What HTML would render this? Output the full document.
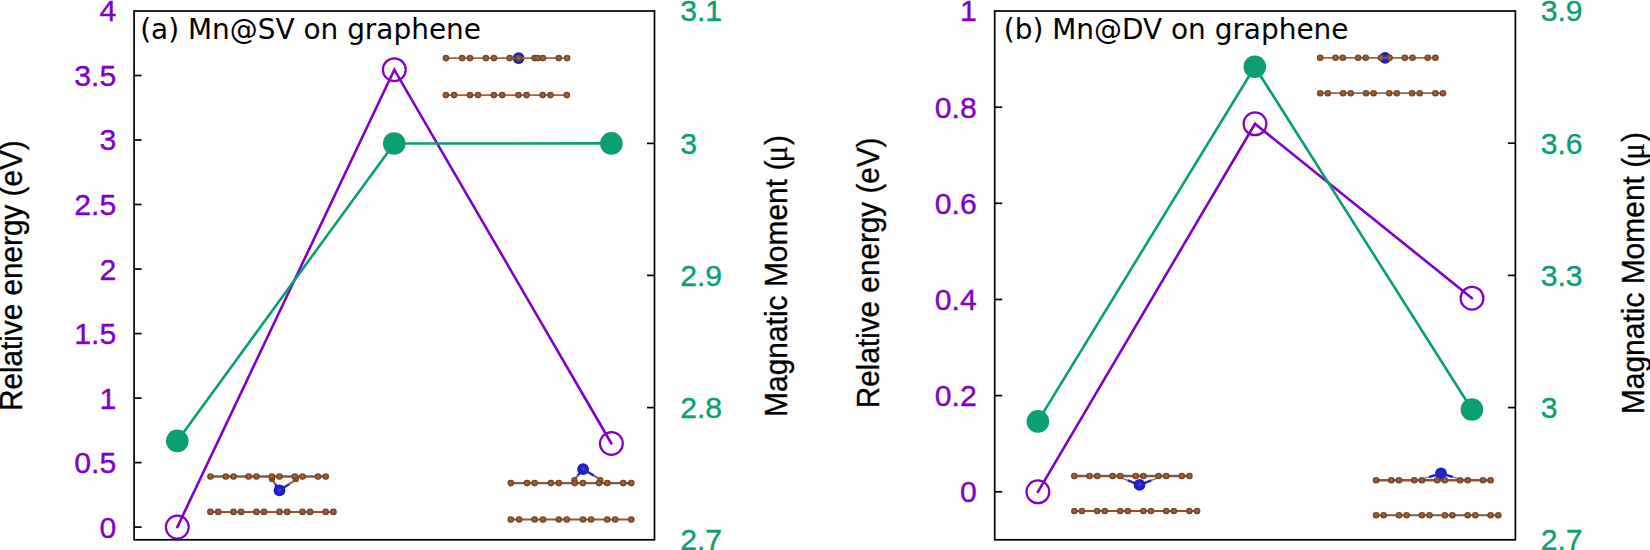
<!DOCTYPE html>
<html lang="en"><head><meta charset="utf-8"><title>Mn on graphene: relative energy and magnetic moment</title>
<style>
html,body{margin:0;padding:0;background:#fff;}
body{width:1650px;height:550px;overflow:hidden;position:relative;}
svg{position:absolute;left:0;top:0;display:block;}
.tk{font-family:"Liberation Sans",Arial,Helvetica,sans-serif;font-size:30.20px;}
.ti{font-family:"DejaVu Sans","Liberation Sans",sans-serif;font-size:27.95px;fill:#000;}
.ax{font-family:"Liberation Sans",Arial,Helvetica,sans-serif;fill:#000;stroke:#000;stroke-width:0.3px;}
.mu{font-family:"Liberation Serif","DejaVu Serif",serif;font-size:31px;fill:#000;stroke:#000;stroke-width:0.25px;}
</style></head><body>
<svg width="1650" height="550" viewBox="0 0 1650 550">
<defs>
<radialGradient id="gc" cx="50%" cy="48%" r="55%"><stop offset="0" stop-color="#c08052"/><stop offset="0.3" stop-color="#935932"/><stop offset="0.75" stop-color="#7a4524"/><stop offset="1" stop-color="#5e3418"/></radialGradient>
<radialGradient id="gb" cx="52%" cy="48%" r="55%"><stop offset="0" stop-color="#5a5af0"/><stop offset="0.25" stop-color="#2424dc"/><stop offset="1" stop-color="#1a18a8"/></radialGradient>
</defs>
<rect x="0" y="0" width="1650" height="550" fill="#ffffff"/>
<g>
<g class="tk" fill="#8000c6" stroke="#8000c6" stroke-width="0.35" text-anchor="end">
<text x="116.2" y="537.55">0</text>
<text x="116.2" y="473.05">0.5</text>
<text x="116.2" y="408.55">1</text>
<text x="116.2" y="344.05">1.5</text>
<text x="116.2" y="279.50">2</text>
<text x="116.2" y="214.95">2.5</text>
<text x="116.2" y="150.45">3</text>
<text x="116.2" y="85.95">3.5</text>
<text x="116.2" y="21.45">4</text>
</g>
<g class="tk" fill="#0a9e73" stroke="#0a9e73" stroke-width="0.35" text-anchor="start">
<text x="680.2" y="550.25">2.7</text>
<text x="680.2" y="418.05">2.8</text>
<text x="680.2" y="285.85">2.9</text>
<text x="680.2" y="153.85">3</text>
<text x="680.2" y="21.45">3.1</text>
</g>
<g transform="translate(21.80 411.04) rotate(-90) scale(1 1.060)"><text class="ax" style="font-size:29.70px" x="0" y="0">Relative energy (eV)</text></g>
<g transform="translate(786.80 416.96) rotate(-90) scale(1 1.060)"><text class="ax" style="font-size:29.95px" x="0" y="0">Magnatic Moment (<tspan class="mu" dx="-1.86">μ</tspan><tspan dx="0.97">)</tspan></text></g>
<g stroke="#000" stroke-width="1.7" fill="none">
<line x1="134.1" y1="527.10" x2="141.6" y2="527.10"/>
<line x1="134.1" y1="462.60" x2="141.6" y2="462.60"/>
<line x1="134.1" y1="398.10" x2="141.6" y2="398.10"/>
<line x1="134.1" y1="333.60" x2="141.6" y2="333.60"/>
<line x1="134.1" y1="269.05" x2="141.6" y2="269.05"/>
<line x1="134.1" y1="204.50" x2="141.6" y2="204.50"/>
<line x1="134.1" y1="140.00" x2="141.6" y2="140.00"/>
<line x1="134.1" y1="75.50" x2="141.6" y2="75.50"/>
<line x1="647.0" y1="407.60" x2="654.5" y2="407.60"/>
<line x1="647.0" y1="275.40" x2="654.5" y2="275.40"/>
<line x1="647.0" y1="143.40" x2="654.5" y2="143.40"/>
<rect x="134.1" y="11.0" width="520.4" height="528.8"/>
</g>
<text class="ti" x="140.2" y="38.5">(a) Mn@SV on graphene</text>
<polyline points="177.3,527.1 394.3,69.7 611.4,443.5" fill="none" stroke="#8000c6" stroke-width="2.6" stroke-linejoin="miter" stroke-linecap="round"/>
<circle cx="177.3" cy="527.1" r="11.4" fill="none" stroke="#8000c6" stroke-width="2.2"/>
<circle cx="394.3" cy="69.7" r="11.4" fill="none" stroke="#8000c6" stroke-width="2.2"/>
<circle cx="611.4" cy="443.5" r="11.4" fill="none" stroke="#8000c6" stroke-width="2.2"/>
<polyline points="177.3,440.9 394.2,143.5 611.4,143.4" fill="none" stroke="#0a9e73" stroke-width="2.6" stroke-linejoin="miter" stroke-linecap="round"/>
<circle cx="177.3" cy="440.9" r="11.3" fill="#0a9e73"/>
<circle cx="394.2" cy="143.5" r="11.3" fill="#0a9e73"/>
<circle cx="611.4" cy="143.4" r="11.3" fill="#0a9e73"/>
</g>
<g>
<g class="tk" fill="#8000c6" stroke="#8000c6" stroke-width="0.35" text-anchor="end">
<text x="976.8" y="502.25">0</text>
<text x="976.8" y="406.05">0.2</text>
<text x="976.8" y="309.95">0.4</text>
<text x="976.8" y="213.75">0.6</text>
<text x="976.8" y="117.65">0.8</text>
<text x="976.8" y="21.45">1</text>
</g>
<g class="tk" fill="#0a9e73" stroke="#0a9e73" stroke-width="0.35" text-anchor="start">
<text x="1540.7" y="550.25">2.7</text>
<text x="1540.7" y="418.05">3</text>
<text x="1540.7" y="285.85">3.3</text>
<text x="1540.7" y="153.65">3.6</text>
<text x="1540.7" y="21.45">3.9</text>
</g>
<g transform="translate(879.10 408.14) rotate(-90) scale(1 1.060)"><text class="ax" style="font-size:29.70px" x="0" y="0">Relative energy (eV)</text></g>
<g transform="translate(1643.70 414.16) rotate(-90) scale(1 1.060)"><text class="ax" style="font-size:29.95px" x="0" y="0">Magnatic Moment (<tspan class="mu" dx="-1.86">μ</tspan><tspan dx="0.97">)</tspan></text></g>
<g stroke="#000" stroke-width="1.7" fill="none">
<line x1="994.7" y1="491.80" x2="1002.2" y2="491.80"/>
<line x1="994.7" y1="395.60" x2="1002.2" y2="395.60"/>
<line x1="994.7" y1="299.50" x2="1002.2" y2="299.50"/>
<line x1="994.7" y1="203.30" x2="1002.2" y2="203.30"/>
<line x1="994.7" y1="107.20" x2="1002.2" y2="107.20"/>
<line x1="1507.9" y1="407.60" x2="1515.4" y2="407.60"/>
<line x1="1507.9" y1="275.40" x2="1515.4" y2="275.40"/>
<line x1="1507.9" y1="143.20" x2="1515.4" y2="143.20"/>
<rect x="994.7" y="11.0" width="520.7" height="528.8"/>
</g>
<text class="ti" x="1003.8" y="38.5">(b) Mn@DV on graphene</text>
<polyline points="1037.9,491.8 1255.0,123.8 1472.0,298.2" fill="none" stroke="#8000c6" stroke-width="2.6" stroke-linejoin="miter" stroke-linecap="round"/>
<circle cx="1037.9" cy="491.8" r="11.4" fill="none" stroke="#8000c6" stroke-width="2.2"/>
<circle cx="1255.0" cy="123.8" r="11.4" fill="none" stroke="#8000c6" stroke-width="2.2"/>
<circle cx="1472.0" cy="298.2" r="11.4" fill="none" stroke="#8000c6" stroke-width="2.2"/>
<polyline points="1037.9,421.4 1254.8,66.8 1471.9,409.5" fill="none" stroke="#0a9e73" stroke-width="2.6" stroke-linejoin="miter" stroke-linecap="round"/>
<circle cx="1037.9" cy="421.4" r="11.3" fill="#0a9e73"/>
<circle cx="1254.8" cy="66.8" r="11.3" fill="#0a9e73"/>
<circle cx="1471.9" cy="409.5" r="11.3" fill="#0a9e73"/>
</g>
<g>
<g><circle cx="518.6" cy="58.1" r="5.9" fill="url(#gb)"/><line x1="445.9" y1="58.1" x2="567.1" y2="58.1" stroke="#9a6846" stroke-width="1.7"/><line x1="445.9" y1="95.1" x2="566.8" y2="95.1" stroke="#9a6846" stroke-width="1.7"/><circle cx="445.9" cy="58.1" r="3.3" fill="url(#gc)"/><circle cx="462.1" cy="58.1" r="3.3" fill="url(#gc)"/><circle cx="470.0" cy="58.1" r="3.3" fill="url(#gc)"/><circle cx="485.9" cy="58.1" r="3.3" fill="url(#gc)"/><circle cx="493.9" cy="58.1" r="3.3" fill="url(#gc)"/><circle cx="509.6" cy="58.1" r="3.3" fill="url(#gc)"/><circle cx="518.6" cy="58.1" r="3.3" fill="url(#gc)"/><circle cx="534.6" cy="58.1" r="3.3" fill="url(#gc)"/><circle cx="537.8" cy="58.1" r="3.3" fill="url(#gc)"/><circle cx="542.9" cy="58.1" r="3.3" fill="url(#gc)"/><circle cx="558.8" cy="58.1" r="3.3" fill="url(#gc)"/><circle cx="567.1" cy="58.1" r="3.3" fill="url(#gc)"/><circle cx="445.9" cy="95.1" r="3.3" fill="url(#gc)"/><circle cx="454.1" cy="95.1" r="3.3" fill="url(#gc)"/><circle cx="470.0" cy="95.1" r="3.3" fill="url(#gc)"/><circle cx="478.0" cy="95.1" r="3.3" fill="url(#gc)"/><circle cx="493.9" cy="95.1" r="3.3" fill="url(#gc)"/><circle cx="502.2" cy="95.1" r="3.3" fill="url(#gc)"/><circle cx="518.5" cy="95.1" r="3.3" fill="url(#gc)"/><circle cx="526.6" cy="95.1" r="3.3" fill="url(#gc)"/><circle cx="542.7" cy="95.1" r="3.3" fill="url(#gc)"/><circle cx="550.5" cy="95.1" r="3.3" fill="url(#gc)"/><circle cx="566.8" cy="95.1" r="3.3" fill="url(#gc)"/></g>
<g><line x1="210.4" y1="476.5" x2="325.7" y2="476.5" stroke="#86583a" stroke-width="2.4"/><line x1="210.4" y1="511.9" x2="333.4" y2="511.9" stroke="#86583a" stroke-width="2.0"/><line x1="275.2" y1="484.0" x2="272.6" y2="480.2" stroke="#8a6a50" stroke-width="2.2"/><line x1="279.5" y1="490.3" x2="275.2" y2="484.0" stroke="#2626c4" stroke-width="2.4"/><line x1="289.4" y1="483.9" x2="295.4" y2="480.0" stroke="#8a6a50" stroke-width="2.2"/><line x1="279.5" y1="490.3" x2="289.4" y2="483.9" stroke="#2626c4" stroke-width="2.4"/><circle cx="272.0" cy="478.9" r="3.1" fill="url(#gc)"/><circle cx="296.0" cy="478.9" r="3.1" fill="url(#gc)"/><circle cx="210.4" cy="476.5" r="3.3" fill="url(#gc)"/><circle cx="225.8" cy="476.5" r="3.3" fill="url(#gc)"/><circle cx="233.5" cy="476.5" r="3.3" fill="url(#gc)"/><circle cx="248.6" cy="476.5" r="3.3" fill="url(#gc)"/><circle cx="256.4" cy="476.5" r="3.3" fill="url(#gc)"/><circle cx="271.9" cy="476.5" r="3.3" fill="url(#gc)"/><circle cx="279.5" cy="476.5" r="3.3" fill="url(#gc)"/><circle cx="294.8" cy="476.5" r="3.3" fill="url(#gc)"/><circle cx="302.5" cy="476.5" r="3.3" fill="url(#gc)"/><circle cx="318.0" cy="476.5" r="3.3" fill="url(#gc)"/><circle cx="325.7" cy="476.5" r="3.3" fill="url(#gc)"/><circle cx="210.4" cy="511.9" r="3.3" fill="url(#gc)"/><circle cx="218.2" cy="511.9" r="3.3" fill="url(#gc)"/><circle cx="233.5" cy="511.9" r="3.3" fill="url(#gc)"/><circle cx="241.1" cy="511.9" r="3.3" fill="url(#gc)"/><circle cx="256.4" cy="511.9" r="3.3" fill="url(#gc)"/><circle cx="264.0" cy="511.9" r="3.3" fill="url(#gc)"/><circle cx="279.5" cy="511.9" r="3.3" fill="url(#gc)"/><circle cx="287.2" cy="511.9" r="3.3" fill="url(#gc)"/><circle cx="302.5" cy="511.9" r="3.3" fill="url(#gc)"/><circle cx="310.1" cy="511.9" r="3.3" fill="url(#gc)"/><circle cx="325.7" cy="511.9" r="3.3" fill="url(#gc)"/><circle cx="333.4" cy="511.9" r="3.3" fill="url(#gc)"/><circle cx="279.5" cy="490.3" r="5.9" fill="url(#gb)"/></g>
<g><line x1="510.8" y1="483.1" x2="631.3" y2="483.1" stroke="#86583a" stroke-width="2.4"/><line x1="510.8" y1="519.5" x2="631.3" y2="519.5" stroke="#86583a" stroke-width="2.0"/><line x1="577.8" y1="475.6" x2="574.5" y2="479.6" stroke="#8a6a50" stroke-width="2.2"/><line x1="583.1" y1="469.2" x2="577.8" y2="475.6" stroke="#2626c4" stroke-width="2.4"/><line x1="593.9" y1="475.6" x2="600.5" y2="479.6" stroke="#8a6a50" stroke-width="2.2"/><line x1="583.1" y1="469.2" x2="593.9" y2="475.6" stroke="#2626c4" stroke-width="2.4"/><circle cx="574.4" cy="480.2" r="3.1" fill="url(#gc)"/><circle cx="600.3" cy="480.2" r="3.1" fill="url(#gc)"/><circle cx="510.8" cy="483.1" r="3.3" fill="url(#gc)"/><circle cx="527.0" cy="483.1" r="3.3" fill="url(#gc)"/><circle cx="534.6" cy="483.1" r="3.3" fill="url(#gc)"/><circle cx="550.9" cy="483.1" r="3.3" fill="url(#gc)"/><circle cx="558.8" cy="483.1" r="3.3" fill="url(#gc)"/><circle cx="574.8" cy="483.1" r="3.3" fill="url(#gc)"/><circle cx="583.0" cy="483.1" r="3.3" fill="url(#gc)"/><circle cx="599.0" cy="483.1" r="3.3" fill="url(#gc)"/><circle cx="607.2" cy="483.1" r="3.3" fill="url(#gc)"/><circle cx="623.2" cy="483.1" r="3.3" fill="url(#gc)"/><circle cx="631.3" cy="483.1" r="3.3" fill="url(#gc)"/><circle cx="510.8" cy="519.5" r="3.3" fill="url(#gc)"/><circle cx="519.1" cy="519.5" r="3.3" fill="url(#gc)"/><circle cx="534.6" cy="519.5" r="3.3" fill="url(#gc)"/><circle cx="543.0" cy="519.5" r="3.3" fill="url(#gc)"/><circle cx="558.8" cy="519.5" r="3.3" fill="url(#gc)"/><circle cx="566.8" cy="519.5" r="3.3" fill="url(#gc)"/><circle cx="583.0" cy="519.5" r="3.3" fill="url(#gc)"/><circle cx="591.1" cy="519.5" r="3.3" fill="url(#gc)"/><circle cx="607.2" cy="519.5" r="3.3" fill="url(#gc)"/><circle cx="615.2" cy="519.5" r="3.3" fill="url(#gc)"/><circle cx="631.3" cy="519.5" r="3.3" fill="url(#gc)"/><circle cx="583.1" cy="469.2" r="5.9" fill="url(#gb)"/></g>
<g><circle cx="1385.1" cy="57.8" r="5.9" fill="url(#gb)"/><line x1="1320.2" y1="57.8" x2="1435.4" y2="57.8" stroke="#9a6846" stroke-width="1.7"/><line x1="1320.2" y1="93.2" x2="1443.0" y2="93.2" stroke="#9a6846" stroke-width="1.7"/><circle cx="1320.2" cy="57.8" r="3.3" fill="url(#gc)"/><circle cx="1335.5" cy="57.8" r="3.3" fill="url(#gc)"/><circle cx="1342.8" cy="57.8" r="3.3" fill="url(#gc)"/><circle cx="1358.1" cy="57.8" r="3.3" fill="url(#gc)"/><circle cx="1365.7" cy="57.8" r="3.3" fill="url(#gc)"/><circle cx="1381.0" cy="57.8" r="3.3" fill="url(#gc)"/><circle cx="1389.5" cy="57.8" r="3.3" fill="url(#gc)"/><circle cx="1404.8" cy="57.8" r="3.3" fill="url(#gc)"/><circle cx="1412.5" cy="57.8" r="3.3" fill="url(#gc)"/><circle cx="1427.7" cy="57.8" r="3.3" fill="url(#gc)"/><circle cx="1435.4" cy="57.8" r="3.3" fill="url(#gc)"/><circle cx="1320.2" cy="93.2" r="3.3" fill="url(#gc)"/><circle cx="1327.8" cy="93.2" r="3.3" fill="url(#gc)"/><circle cx="1343.1" cy="93.2" r="3.3" fill="url(#gc)"/><circle cx="1350.7" cy="93.2" r="3.3" fill="url(#gc)"/><circle cx="1366.0" cy="93.2" r="3.3" fill="url(#gc)"/><circle cx="1373.6" cy="93.2" r="3.3" fill="url(#gc)"/><circle cx="1389.2" cy="93.2" r="3.3" fill="url(#gc)"/><circle cx="1396.8" cy="93.2" r="3.3" fill="url(#gc)"/><circle cx="1412.1" cy="93.2" r="3.3" fill="url(#gc)"/><circle cx="1419.7" cy="93.2" r="3.3" fill="url(#gc)"/><circle cx="1435.4" cy="93.2" r="3.3" fill="url(#gc)"/><circle cx="1443.0" cy="93.2" r="3.3" fill="url(#gc)"/></g>
<g><line x1="1074.3" y1="476.0" x2="1189.4" y2="476.0" stroke="#86583a" stroke-width="2.4"/><line x1="1074.3" y1="511.0" x2="1197.1" y2="511.0" stroke="#86583a" stroke-width="2.0"/><line x1="1127.7" y1="480.4" x2="1120.4" y2="477.6" stroke="#8a6a50" stroke-width="1.3"/><line x1="1139.5" y1="484.9" x2="1127.7" y2="480.4" stroke="#2626c4" stroke-width="2.4"/><line x1="1151.4" y1="480.4" x2="1158.7" y2="477.6" stroke="#8a6a50" stroke-width="1.3"/><line x1="1139.5" y1="484.9" x2="1151.4" y2="480.4" stroke="#2626c4" stroke-width="2.4"/><circle cx="1074.3" cy="476.0" r="3.3" fill="url(#gc)"/><circle cx="1089.5" cy="476.0" r="3.3" fill="url(#gc)"/><circle cx="1097.2" cy="476.0" r="3.3" fill="url(#gc)"/><circle cx="1112.6" cy="476.0" r="3.3" fill="url(#gc)"/><circle cx="1120.2" cy="476.0" r="3.3" fill="url(#gc)"/><circle cx="1135.7" cy="476.0" r="3.3" fill="url(#gc)"/><circle cx="1143.4" cy="476.0" r="3.3" fill="url(#gc)"/><circle cx="1158.6" cy="476.0" r="3.3" fill="url(#gc)"/><circle cx="1166.3" cy="476.0" r="3.3" fill="url(#gc)"/><circle cx="1181.8" cy="476.0" r="3.3" fill="url(#gc)"/><circle cx="1189.4" cy="476.0" r="3.3" fill="url(#gc)"/><circle cx="1074.3" cy="511.0" r="3.3" fill="url(#gc)"/><circle cx="1081.9" cy="511.0" r="3.3" fill="url(#gc)"/><circle cx="1097.2" cy="511.0" r="3.3" fill="url(#gc)"/><circle cx="1104.8" cy="511.0" r="3.3" fill="url(#gc)"/><circle cx="1120.2" cy="511.0" r="3.3" fill="url(#gc)"/><circle cx="1127.8" cy="511.0" r="3.3" fill="url(#gc)"/><circle cx="1143.4" cy="511.0" r="3.3" fill="url(#gc)"/><circle cx="1151.0" cy="511.0" r="3.3" fill="url(#gc)"/><circle cx="1166.3" cy="511.0" r="3.3" fill="url(#gc)"/><circle cx="1173.9" cy="511.0" r="3.3" fill="url(#gc)"/><circle cx="1189.4" cy="511.0" r="3.3" fill="url(#gc)"/><circle cx="1197.1" cy="511.0" r="3.3" fill="url(#gc)"/><circle cx="1139.5" cy="484.9" r="5.9" fill="url(#gb)"/></g>
<g><circle cx="1441.0" cy="473.5" r="5.9" fill="url(#gb)"/><line x1="1376.1" y1="480.2" x2="1490.6" y2="480.2" stroke="#86583a" stroke-width="2.4"/><line x1="1376.1" y1="515.2" x2="1498.3" y2="515.2" stroke="#86583a" stroke-width="2.0"/><line x1="1429.1" y1="477.0" x2="1421.8" y2="479.2" stroke="#8a6a50" stroke-width="1.3"/><line x1="1441.0" y1="473.4" x2="1429.1" y2="477.0" stroke="#2626c4" stroke-width="2.4"/><line x1="1452.8" y1="477.0" x2="1460.0" y2="479.2" stroke="#8a6a50" stroke-width="1.3"/><line x1="1441.0" y1="473.4" x2="1452.8" y2="477.0" stroke="#2626c4" stroke-width="2.4"/><circle cx="1376.1" cy="480.2" r="3.3" fill="url(#gc)"/><circle cx="1391.3" cy="480.2" r="3.3" fill="url(#gc)"/><circle cx="1399.0" cy="480.2" r="3.3" fill="url(#gc)"/><circle cx="1414.3" cy="480.2" r="3.3" fill="url(#gc)"/><circle cx="1421.9" cy="480.2" r="3.3" fill="url(#gc)"/><circle cx="1437.2" cy="480.2" r="3.3" fill="url(#gc)"/><circle cx="1444.8" cy="480.2" r="3.3" fill="url(#gc)"/><circle cx="1460.1" cy="480.2" r="3.3" fill="url(#gc)"/><circle cx="1467.7" cy="480.2" r="3.3" fill="url(#gc)"/><circle cx="1483.0" cy="480.2" r="3.3" fill="url(#gc)"/><circle cx="1490.6" cy="480.2" r="3.3" fill="url(#gc)"/><circle cx="1376.1" cy="515.2" r="3.3" fill="url(#gc)"/><circle cx="1383.7" cy="515.2" r="3.3" fill="url(#gc)"/><circle cx="1399.0" cy="515.2" r="3.3" fill="url(#gc)"/><circle cx="1406.6" cy="515.2" r="3.3" fill="url(#gc)"/><circle cx="1421.9" cy="515.2" r="3.3" fill="url(#gc)"/><circle cx="1429.5" cy="515.2" r="3.3" fill="url(#gc)"/><circle cx="1444.8" cy="515.2" r="3.3" fill="url(#gc)"/><circle cx="1452.4" cy="515.2" r="3.3" fill="url(#gc)"/><circle cx="1467.7" cy="515.2" r="3.3" fill="url(#gc)"/><circle cx="1475.3" cy="515.2" r="3.3" fill="url(#gc)"/><circle cx="1490.6" cy="515.2" r="3.3" fill="url(#gc)"/><circle cx="1498.3" cy="515.2" r="3.3" fill="url(#gc)"/></g>
</g>
</svg>
</body></html>
